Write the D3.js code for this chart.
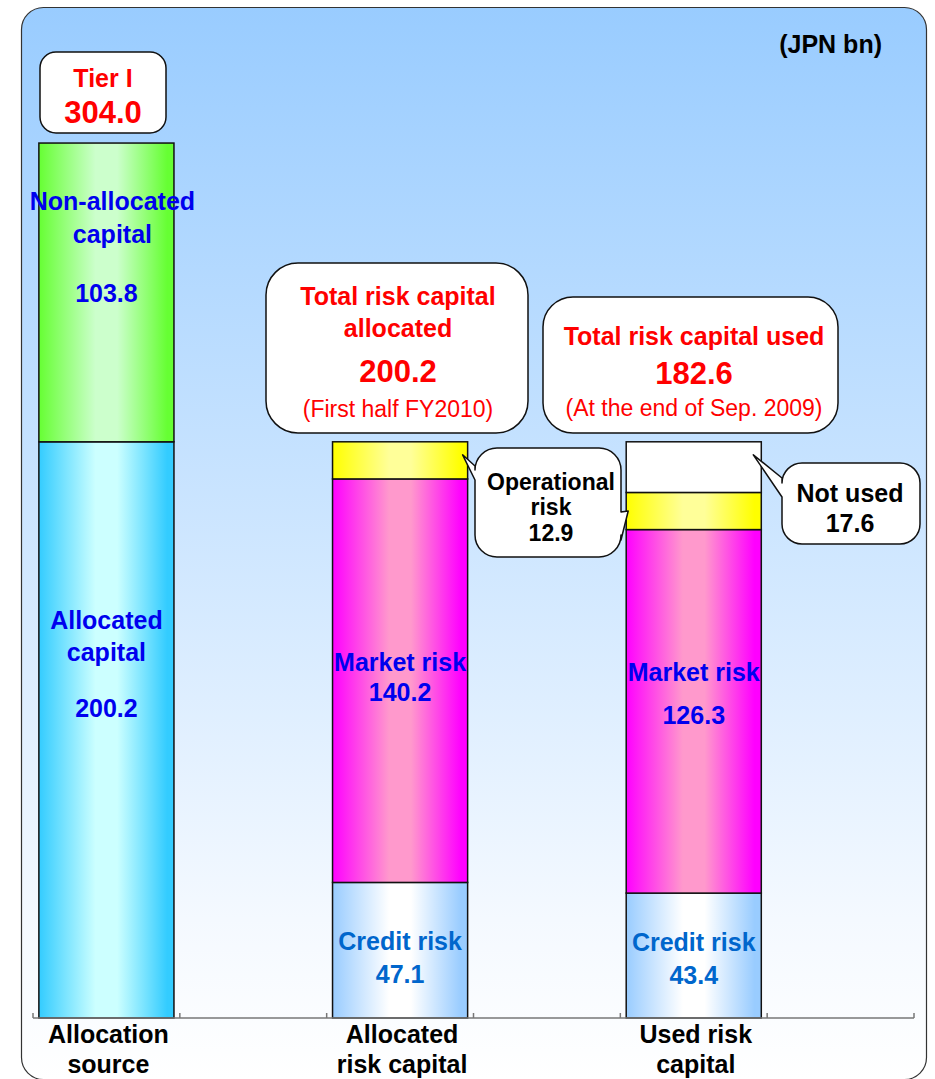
<!DOCTYPE html>
<html>
<head>
<meta charset="utf-8">
<script src="https://cdn.jsdelivr.net/npm/d3@7.9.0/dist/d3.min.js"></script>
<style>
  html, body { margin: 0; padding: 0; background: #fff; }
  svg { display: block; }
  text { font-family: "Liberation Sans", Arial, sans-serif; }
</style>
</head>
<body>
<svg id="chart" width="935" height="1079"></svg>
<script>
// values in JPN bn
const categories = ['Allocation source', 'Allocated risk capital', 'Used risk capital'];
const categoryLines = [['Allocation', 'source'], ['Allocated', 'risk capital'], ['Used risk', 'capital']];

const sourceParts = ['Allocated capital', 'Non-allocated capital'];
const sourceValues = [200.2, 103.8];

const riskParts = ['Credit risk', 'Market risk', 'Operational risk', 'Not used'];
const allocatedValues = [47.1, 140.2, 12.9, 0];
const usedValues = [43.4, 126.3, 12.9, 17.6];

const tier1 = 304.0;
const totalAllocated = 200.2;
const totalUsed = 182.6;

const fmt = d3.format('.1f');
const svg = d3.select('#chart');
const defs = svg.append('defs');

// fills: [edge, centre]
const fills = {
  'Allocated capital': ['#33CCFF', '#CCFFFF'],
  'Non-allocated capital': ['#66FF33', '#CCFFCC'],
  'Credit risk': ['#99CCFF', '#FFFFFF'],
  'Market risk': ['#FF00FF', '#FF99CC'],
  'Operational risk': ['#FFFF00', '#FFFF99'],
  'Not used': ['#FFFFFF', '#FFFFFF']
};
Object.entries(fills).forEach(([name, [edge, mid]], i) => {
  const g = defs.append('linearGradient').attr('id', 'g' + i)
    .attr('x1', 0).attr('x2', 1).attr('y1', 0).attr('y2', 0);
  [[0, edge], [0.42, mid], [0.58, mid], [0.95, edge], [1, edge]].forEach(([o, c]) =>
    g.append('stop').attr('offset', o).attr('stop-color', c));
  fills[name].id = 'g' + i;
});

const bg = defs.append('linearGradient').attr('id', 'bg')
  .attr('x1', 0).attr('x2', 0).attr('y1', 0).attr('y2', 1);
bg.append('stop').attr('offset', 0).attr('stop-color', '#99CCFF');
bg.append('stop').attr('offset', 0.85).attr('stop-color', '#F4F9FF');
bg.append('stop').attr('offset', 1).attr('stop-color', '#FFFFFF');

// frame
svg.append('rect')
  .attr('x', 21.5).attr('y', 7.5).attr('width', 905).attr('height', 1072)
  .attr('rx', 22).attr('fill', 'url(#bg)').attr('stroke', '#333').attr('stroke-width', 1.2);

// scales: two slots per category, bar in the first one
const x = d3.scaleBand()
  .domain(d3.range(categories.length * 2))
  .range([33, 914])
  .paddingInner(0.08)
  .paddingOuter(0.04);
const y = d3.scaleLinear().domain([0, 320]).range([1018, 97]);

const bars = [
  { cat: 0, parts: sourceParts, values: sourceValues },
  { cat: 1, parts: riskParts, values: allocatedValues },
  { cat: 2, parts: riskParts, values: usedValues }
];

const segments = bars.flatMap(b => {
  const ends = d3.cumsum(b.values);
  return b.parts.map((p, i) => ({
    cat: b.cat, part: p, value: b.values[i], y0: ends[i] - b.values[i], y1: ends[i]
  })).filter(s => s.value > 0);
});

svg.append('g')
  .selectAll('rect')
  .data(segments)
  .join('rect')
  .attr('x', d => x(d.cat * 2))
  .attr('width', x.bandwidth())
  .attr('y', d => y(d.y1))
  .attr('height', d => y(d.y0) - y(d.y1))
  .attr('fill', d => `url(#${fills[d.part].id})`)
  .attr('stroke', '#111')
  .attr('stroke-width', 1.5);

// category axis, ticks between slots
const x0 = x.range()[0];
const bounds = d3.range(x.domain().length + 1).map(i => x0 + i * x.step());
const axis = svg.append('g').attr('stroke', '#777').attr('stroke-width', 1.5);
axis.append('line').attr('x1', x0).attr('x2', bounds[bounds.length - 1])
  .attr('y1', y(0)).attr('y2', y(0));
axis.selectAll('.tick').data(bounds).join('line')
  .attr('x1', d => d).attr('x2', d => d)
  .attr('y1', y(0)).attr('y2', y(0) - 5);

const cx = i => x(i * 2) + x.bandwidth() / 2;

svg.append('g').selectAll('text')
  .data(categoryLines)
  .join('text')
  .attr('text-anchor', 'middle')
  .attr('font-weight', 'bold')
  .attr('font-size', 25)
  .attr('fill', '#000')
  .each(function (lines, i) {
    d3.select(this).selectAll('tspan').data(lines).join('tspan')
      .attr('x', cx(i) + 2)
      .attr('y', (_, k) => y(0) + 25 + k * 30)
      .text(t => t);
  });

// labels inside bars, offsets from segment top
const blue = '#0000EE';
const creditBlue = '#0066CC';
const barLabels = [
  { cat: 0, part: 'Non-allocated capital', lines: ['Non-allocated', 'capital'], dy: [67, 100, 159], color: blue, dx: [6, 6, 0] },
  { cat: 0, part: 'Allocated capital', lines: ['Allocated', 'capital'], dy: [187, 219, 275], color: blue, dx: [0, 0, 0] },
  { cat: 1, part: 'Market risk', lines: ['Market risk'], dy: [192, 222], color: blue, dx: [0, 0] },
  { cat: 2, part: 'Market risk', lines: ['Market risk'], dy: [151, 194], color: blue, dx: [0, 0] },
  { cat: 1, part: 'Credit risk', lines: ['Credit risk'], dy: [68, 101], color: creditBlue, dx: [0, 0] },
  { cat: 2, part: 'Credit risk', lines: ['Credit risk'], dy: [58, 91], color: creditBlue, dx: [0, 0] }
];

barLabels.forEach(l => {
  const seg = segments.find(s => s.cat === l.cat && s.part === l.part);
  const top = y(seg.y1);
  const rows = [...l.lines, fmt(seg.value)];
  const t = svg.append('text')
    .attr('text-anchor', 'middle')
    .attr('font-weight', 'bold')
    .attr('font-size', 25)
    .attr('fill', l.color);
  rows.forEach((r, k) => {
    t.append('tspan').attr('x', cx(l.cat) + l.dx[k]).attr('y', top + l.dy[k]).text(r);
  });
});

// rounded callout with optional tails
function bubble(bx, by, w, h, r, tails = []) {
  const p = d3.path();
  p.moveTo(bx + r, by);
  p.lineTo(bx + w - r, by);
  p.arcTo(bx + w, by, bx + w, by + r, r);
  tails.filter(t => t.side === 'right').forEach(t => {
    p.lineTo(bx + w, t.from);
    p.lineTo(t.tip[0], t.tip[1]);
    p.lineTo(bx + w, t.to);
  });
  p.lineTo(bx + w, by + h - r);
  p.arcTo(bx + w, by + h, bx + w - r, by + h, r);
  p.lineTo(bx + r, by + h);
  p.arcTo(bx, by + h, bx, by + h - r, r);
  tails.filter(t => t.side === 'left').forEach(t => {
    p.lineTo(bx, t.to);
    p.lineTo(t.tip[0], t.tip[1]);
    p.lineTo(bx, t.from);
  });
  p.lineTo(bx, by + r);
  p.arcTo(bx, by, bx + r, by, r);
  p.closePath();
  svg.append('path').attr('d', p.toString())
    .attr('fill', '#fff').attr('stroke', '#111').attr('stroke-width', 1.5)
    .attr('stroke-linejoin', 'round');
}

function lines(cxp, rows) {
  const t = svg.append('text').attr('text-anchor', 'middle');
  rows.forEach(r => {
    t.append('tspan')
      .attr('x', cxp).attr('y', r.y)
      .attr('font-size', r.size)
      .attr('font-weight', r.bold === false ? 'normal' : 'bold')
      .attr('fill', r.color)
      .text(r.text);
  });
}

const red = '#FF0000';

// Tier I
bubble(40, 52, 126, 81, 16);
lines(103, [
  { text: 'Tier I', y: 87, size: 25, color: red },
  { text: fmt(tier1), y: 123, size: 31, color: red }
]);

// total allocated
bubble(266, 263, 262, 170, 32);
lines(398, [
  { text: 'Total risk capital', y: 305, size: 25, color: red },
  { text: 'allocated', y: 337, size: 25, color: red },
  { text: fmt(totalAllocated), y: 382, size: 31, color: red },
  { text: '(First half FY2010)', y: 417, size: 23, color: red, bold: false }
]);

// total used
bubble(543, 297, 295, 136, 30);
lines(694, [
  { text: 'Total risk capital used', y: 345, size: 25, color: red },
  { text: fmt(totalUsed), y: 384, size: 31, color: red },
  { text: '(At the end of Sep. 2009)', y: 416, size: 23, color: red, bold: false }
]);

// operational risk callout pointing at both yellow segments
const op1 = segments.find(s => s.cat === 1 && s.part === 'Operational risk');
const op2 = segments.find(s => s.cat === 2 && s.part === 'Operational risk');
const bar1Right = x(2) + x.bandwidth();
const bar2Left = x(4);
bubble(475, 448, 146, 109, 22, [
  { side: 'left', from: 466, to: 480, tip: [bar1Right - 5, y(op1.y1) + 13] },
  { side: 'right', from: 512, to: 540, tip: [bar2Left + 2, (y(op2.y0) + y(op2.y1)) / 2] }
]);
lines(551, [
  { text: 'Operational', y: 490, size: 23, color: '#000' },
  { text: 'risk', y: 515, size: 23, color: '#000' },
  { text: fmt(op1.value), y: 541, size: 23, color: '#000' }
]);

// not used callout
const nu = segments.find(s => s.cat === 2 && s.part === 'Not used');
bubble(782, 463, 138, 81, 20, [
  { side: 'left', from: 478, to: 497, tip: [bar2Left + x.bandwidth() - 8, y(nu.y1) + 13] }
]);
lines(850, [
  { text: 'Not used', y: 502, size: 25, color: '#000' },
  { text: fmt(nu.value), y: 532, size: 25, color: '#000' }
]);

// unit
svg.append('text')
  .attr('x', 882).attr('y', 53)
  .attr('text-anchor', 'end')
  .attr('font-weight', 'bold')
  .attr('font-size', 25)
  .text('(JPN bn)');
</script>
</body>
</html>
